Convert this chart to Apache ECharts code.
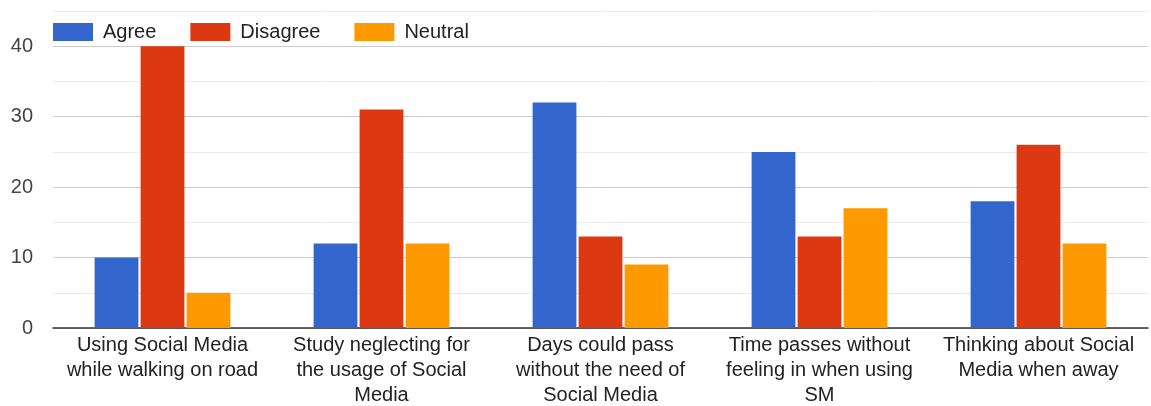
<!DOCTYPE html>
<html>
<head>
<meta charset="utf-8">
<script src="https://cdn.jsdelivr.net/npm/echarts@6/dist/echarts.min.js"></script>
<style>
  html, body { margin: 0; padding: 0; background: #fff; }
  #chart { width: 1151px; height: 406px; }
</style>
</head>
<body>
<div id="chart"></div>
<script>
// Survey statements (line breaks as displayed under the axis)
const categories = [
  'Using Social Media\nwhile walking on road',
  'Study neglecting for\nthe usage of Social\nMedia',
  'Days could pass\nwithout the need of\nSocial Media',
  'Time passes without\nfeeling in when using\nSM',
  'Thinking about Social\nMedia when away'
];
const agree = [10, 12, 32, 25, 18];
const disagree = [40, 31, 13, 13, 26];
const neutral = [5, 12, 9, 17, 12];
const seriesNames = ['Agree', 'Disagree', 'Neutral'];
const seriesColors = ['#3366cc', '#dc3912', '#ff9900'];

const FONT = 'Liberation Sans, Arial, sans-serif';
const chart = echarts.init(document.getElementById('chart'), null, { renderer: 'canvas' });

const makeBar = (name, data, color) => ({
  name,
  type: 'bar',
  data,
  itemStyle: { color },
  barGap: '5%',
  barCategoryGap: '38%',
  emphasis: { disabled: true }
});

chart.setOption({
  animation: false,
  color: seriesColors,
  textStyle: { fontFamily: FONT },
  legend: {
    left: 48,
    top: 17,
    itemWidth: 40,
    itemHeight: 18,
    itemGap: 34,
    icon: 'rect',
    data: seriesNames,
    textStyle: { fontSize: 20, color: '#222', fontFamily: FONT, padding: [0, 0, 0, 5] }
  },
  grid: {
    left: 53, right: 3, top: 11, bottom: 78,
    containLabel: false,
    outerBoundsMode: 'none'
  },
  xAxis: {
    type: 'category',
    data: categories,
    axisTick: { show: false },
    axisLine: { lineStyle: { color: '#333', width: 1.5 } },
    axisLabel: {
      interval: 0,
      fontSize: 20,
      lineHeight: 25,
      color: '#222',
      margin: 5,
      fontFamily: FONT
    }
  },
  yAxis: {
    type: 'value',
    min: 0,
    max: 45,
    interval: 5,
    axisLine: { show: false },
    axisTick: { show: false },
    axisLabel: {
      fontSize: 20,
      color: '#444',
      margin: 20,
      fontFamily: FONT,
      formatter: v => (v % 10 === 0 && v <= 40 ? String(v) : '')
    },
    splitLine: { lineStyle: { color: ['#cccccc', '#ebebeb'], width: 1 } }
  },
  series: [
    makeBar(seriesNames[0], agree, seriesColors[0]),
    makeBar(seriesNames[1], disagree, seriesColors[1]),
    makeBar(seriesNames[2], neutral, seriesColors[2])
  ]
});
</script>
</body>
</html>
